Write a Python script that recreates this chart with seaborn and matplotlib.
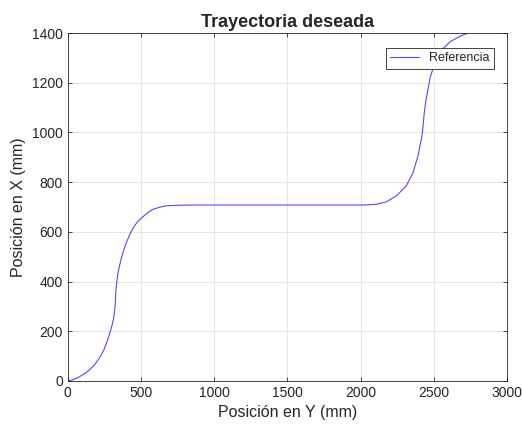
import pandas as pd
import seaborn as sns
import matplotlib.pyplot as plt

# trajectory points (Y horizontal, X vertical), mm
pos_y = [0, 40, 76, 110, 144, 180, 213, 245, 271, 290, 305, 312, 317, 321, 324, 326, 328,
         331, 335, 339, 344, 350, 362, 378, 397, 420, 443, 475, 511, 545, 580, 625, 672,
         760, 856, 1000, 1500, 2000, 2060, 2106, 2174, 2243, 2312, 2358, 2392, 2415,
         2423, 2427, 2431, 2434, 2438, 2446, 2456, 2477, 2507, 2553, 2610, 2679, 2736, 2800]
pos_x = [0, 6, 16, 28, 43, 63, 90, 123, 164, 198, 231, 250, 271, 290, 310, 335, 360,
         382, 400, 419, 438, 455, 486, 520, 553, 585, 613, 640, 660, 677, 690, 699, 705,
         707, 708, 708, 708, 708, 709, 711, 720, 744, 784, 837, 904, 971,
         998, 1024, 1050, 1070, 1091, 1125, 1157, 1224, 1277, 1331, 1364, 1387, 1400, 1412]

df = pd.DataFrame({"Posición en Y (mm)": pos_y, "Posición en X (mm)": pos_x})

sns.set_style("whitegrid")
plt.rcParams["font.family"] = ["Liberation Sans", "DejaVu Sans"]

fig = plt.figure(figsize=(5.22, 4.29), dpi=100)
ax = fig.add_axes([0.130, 0.112, 0.841, 0.811])

sns.lineplot(data=df, x="Posición en Y (mm)", y="Posición en X (mm)", sort=False,
             estimator=None, color="#0000ff", linewidth=0.8, alpha=0.7,
             label="Referencia", ax=ax)

ax.set_xlim(0, 3000)
ax.set_ylim(0, 1400)
ax.set_xticks(range(0, 3001, 500))
ax.set_yticks(range(0, 1401, 200))
ax.grid(True, color="#e6e6e6", linewidth=0.7)
for s in ax.spines.values():
    s.set_visible(True)
    s.set_color("#262626")
    s.set_linewidth(0.6)
ax.tick_params(direction="in", length=3, width=0.6, colors="#262626",
               labelsize=10, top=True, right=True, bottom=True, left=True)
ax.set_xlabel("Posición en Y (mm)", fontsize=11.5, color="#262626", labelpad=4)
ax.set_ylabel("Posición en X (mm)", fontsize=11.5, color="#262626", labelpad=4)
ax.set_title("Trayectoria deseada", fontsize=13, fontweight="bold", pad=4)

leg = ax.legend(loc="upper right", fontsize=9, fancybox=False, framealpha=1,
                edgecolor="#262626", handlelength=2.3, borderpad=0.35,
                bbox_to_anchor=(0.985, 0.975))
leg.get_frame().set_linewidth(0.6)

fig.savefig("out.png", dpi=100)
